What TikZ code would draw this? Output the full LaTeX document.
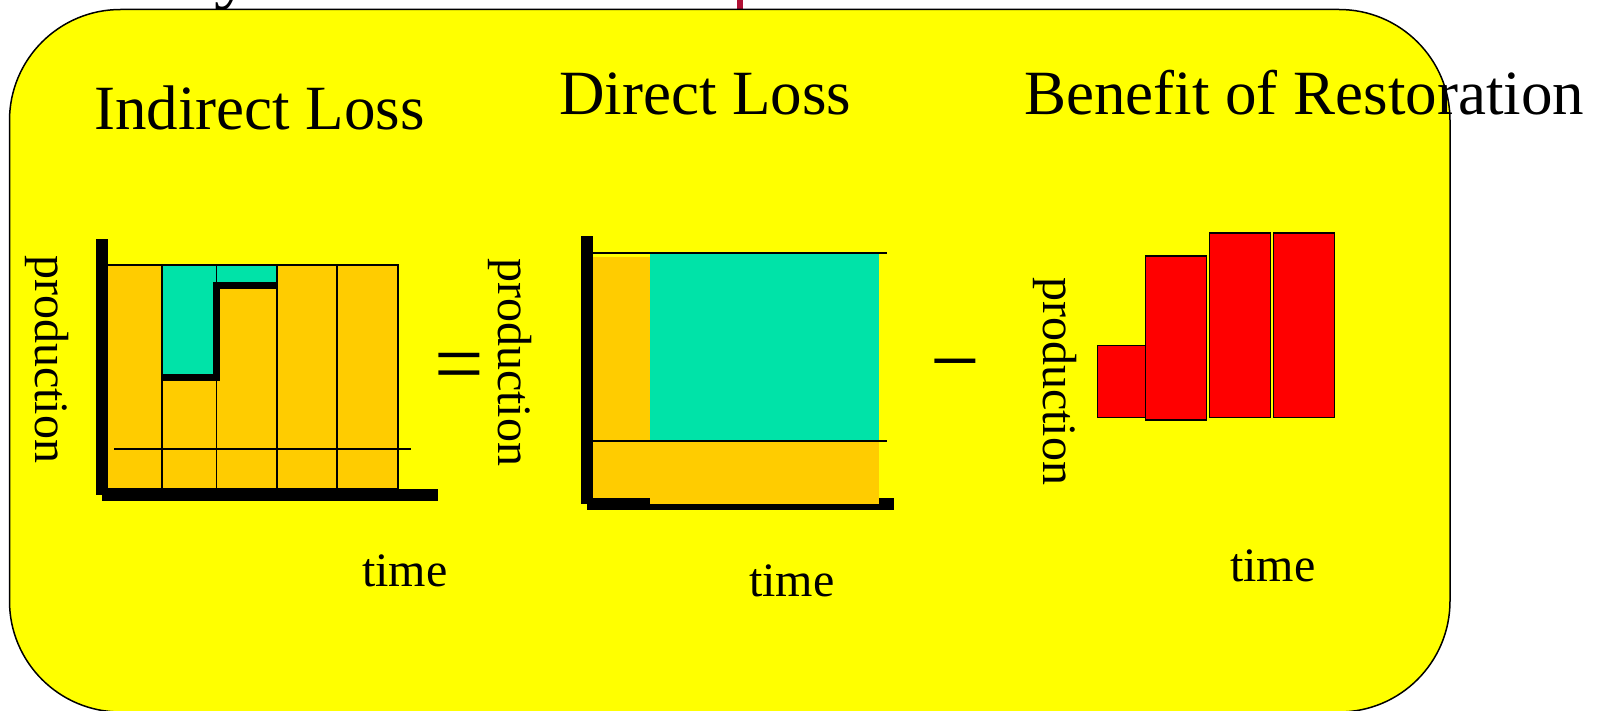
\documentclass[tikz,border=0pt]{standalone}
\usepackage{fontspec}
\setmainfont{Liberation Serif}
\definecolor{ylw}{RGB}{255,255,0}
\definecolor{org}{RGB}{255,204,0}
\definecolor{tealfill}{RGB}{0,227,168}
\definecolor{crim}{RGB}{176,16,52}
\definecolor{barred}{RGB}{255,0,0}
\begin{document}
\begin{tikzpicture}[x=1pt,y=-1pt,
  titletext/.style={font=\fontsize{63}{70}\selectfont, inner sep=0pt, anchor=base west},
  axtext/.style={font=\fontsize{48}{54}\selectfont, inner sep=0pt, anchor=base west},
  ytext/.style={axtext, rotate=-90},
  signtext/.style={font=\fontsize{88}{96}\selectfont, inner sep=0pt, anchor=base},
  gridline/.style={line width=1.3pt},
  axisbar/.style={fill=black},
  colbox/.style={draw=black, line width=1.3pt},
  redbar/.style={fill=barred, draw=black, line width=1.3pt},
  stepline/.style={line width=7pt, line join=miter}
]
\useasboundingbox (0,0) rectangle (1609,711);
\fill[white] (0,0) rectangle (1609,711);
% cut-off title remnants above the panel
\node[font=\fontsize{76}{84}\selectfont, inner sep=0pt, anchor=base west] (ytail) at (214,-5) {y};
\fill[crim] (737,0) rectangle (743,10);
% panel
\draw[fill=ylw, line width=1.5pt, rounded corners=111pt] (9.5,9.5) rectangle (1450,712);
% titles
\node[titletext] (tind) at (94,130) {Indirect Loss};
\node[titletext] (tdir) at (559,115) {Direct Loss};
\node[titletext] (tben) at (1024,115) {Benefit of Restoration};

% ---------- graph 1: indirect loss ----------
\fill[org] (107,265) rectangle (398,489);
\fill[tealfill] (162,265) rectangle (216.5,377);
\fill[tealfill] (216.5,265) rectangle (277,285);
\draw[colbox] (107,265) rectangle (162,489);
\draw[colbox] (162,265) rectangle (216.5,489);
\draw[colbox] (216.5,265) rectangle (277,489);
\draw[colbox] (277,265) rectangle (337,489);
\draw[colbox] (337,265) rectangle (398,489);
\draw[gridline] (114,449) -- (411,449);
\draw[stepline] (162,377.5) -- (216.5,377.5) -- (216.5,285.5) -- (277,285.5);
\fill[axisbar] (96,239) rectangle (108,495);
\fill[axisbar] (102,489) rectangle (438,501);
\node[ytext] (p1) at (35,255) {production};
\node[axtext] (t1) at (362,586) {time};

% equals sign
\node[signtext] (eq) at (459,393) {=};

% ---------- graph 2: direct loss ----------
\fill[axisbar] (581,236) rectangle (592.7,504);
\fill[axisbar] (586.7,498) rectangle (894,510);
\fill[org] (593,257) rectangle (650,498);
\fill[org] (593,441) rectangle (650,498);
\fill[org] (650,441) rectangle (879,504);
\fill[tealfill] (650,253) rectangle (879,441);
\draw[gridline] (593,253) -- (887,253);
\draw[gridline] (593,441) -- (887,441);
\node[ytext] (p2) at (498,258) {production};
\node[axtext] (t2) at (749,596) {time};

% minus sign
\node[signtext] (minus) at (955.5,390.5) {\textminus};

% ---------- graph 3: benefit ----------
\draw[redbar] (1097.7,345.3) rectangle (1145.7,417.7);
\draw[redbar] (1145.7,256) rectangle (1206.7,420);
\draw[redbar] (1209.3,233) rectangle (1270.7,417.3);
\draw[redbar] (1273.3,233) rectangle (1334.7,417.3);
\node[ytext] (p3) at (1043,277) {production};
\node[axtext] (t3) at (1230,581) {time};
\end{tikzpicture}
\end{document}
